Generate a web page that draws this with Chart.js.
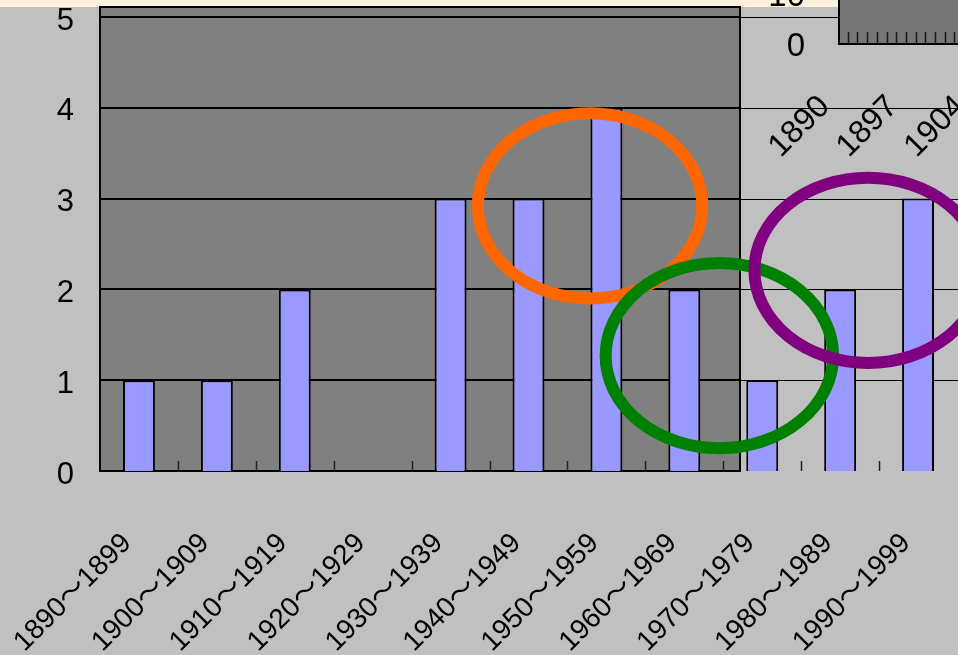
<!DOCTYPE html>
<html>
<head>
<meta charset="utf-8">
<script src="https://cdn.jsdelivr.net/npm/chart.js@4.4.1/dist/chart.umd.min.js"></script>
<style>
html, body { margin: 0; padding: 0; background: #c0c0c0; overflow: hidden; }
#wrap { position: relative; width: 958px; height: 655px; overflow: hidden; }
#mainChart { position: absolute; left: 0; top: 0; }
#insetChart { position: absolute; left: 700px; top: -100px; }
</style>
</head>
<body>
<div id="wrap">
  <canvas id="mainChart" width="958" height="700"></canvas>
  <canvas id="insetChart" width="400" height="260"></canvas>
</div>
<script>
// main chart data
var decades = ['1890～1899', '1900～1909', '1910～1919', '1920～1929', '1930～1939',
               '1940～1949', '1950～1959', '1960～1969', '1970～1979', '1980～1989', '1990～1999'];
var counts = [1, 1, 2, 0, 3, 3, 4, 2, 1, 2, 3];
var yMax = 5;
var yStep = 1;

// the other chart peeking in at the top right
var insetYears = ['1890', '1891', '1892', '1893', '1894', '1895', '1896', '1897', '1898',
                  '1899', '1900', '1901', '1902', '1903', '1904', '1905', '1906', '1907',
                  '1908', '1909', '1910', '1911', '1912', '1913', '1914', '1915', '1916'];
var insetYMax = 20;
var insetYStep = 10;

// hand drawn rings (centre in category / value units)
var rings = [
    { color: '#ff6600', x: 5.79, y: 2.92, rx: 1.44, ry: 1.02 },
    { color: '#008000', x: 7.45, y: 1.27, rx: 1.46, ry: 1.02 },
    { color: '#800080', x: 9.36, y: 2.21, rx: 1.46, ry: 1.02 }
];

var FONT = '"Liberation Sans", Arial, "Noto Sans CJK JP", sans-serif';
var FRAME_RIGHT = 740;

var mainBackground = {
    id: 'mainBackground',
    beforeDraw: function(chart) {
        var ctx = chart.ctx, a = chart.chartArea;
        ctx.save();
        ctx.fillStyle = '#c0c0c0';
        ctx.fillRect(0, 0, chart.width, chart.height);
        ctx.fillStyle = '#fdf1dc';
        ctx.fillRect(0, 0, chart.width, 7);
        ctx.fillStyle = '#808080';
        ctx.fillRect(a.left, 7, FRAME_RIGHT - a.left, a.bottom - 7);
        ctx.restore();
    },
    beforeDatasetsDraw: function(chart) {
        var ctx = chart.ctx, a = chart.chartArea;
        var x = chart.scales.x, y = chart.scales.y;
        ctx.save();
        ctx.strokeStyle = '#000';
        y.ticks.forEach(function(t) {
            if (t.value === 0) return;
            var py = Math.round(y.getPixelForValue(t.value));
            ctx.lineWidth = 2;
            ctx.beginPath();
            ctx.moveTo(a.left, py);
            ctx.lineTo(FRAME_RIGHT, py);
            ctx.stroke();
            ctx.lineWidth = 1;
            ctx.beginPath();
            ctx.moveTo(FRAME_RIGHT, py + 0.5);
            ctx.lineTo(a.right + 1, py + 0.5);
            ctx.stroke();
        });
        // frame of the grey plot area
        ctx.lineWidth = 2;
        ctx.strokeRect(a.left, 7, FRAME_RIGHT - a.left, a.bottom - 7);
        // inward tick marks between categories
        ctx.lineWidth = 1.5;
        ctx.strokeStyle = '#222';
        for (var i = 1; i < decades.length; i++) {
            var px = Math.round((x.getPixelForValue(i - 1) + x.getPixelForValue(i)) / 2) + 0.5;
            ctx.beginPath();
            ctx.moveTo(px, a.bottom);
            ctx.lineTo(px, a.bottom - 10);
            ctx.stroke();
        }
        ctx.restore();
    },
    afterDraw: function(chart) {
        var ctx = chart.ctx;
        var x = chart.scales.x, y = chart.scales.y;
        var cw = x.getPixelForValue(1) - x.getPixelForValue(0);
        var uh = y.getPixelForValue(0) - y.getPixelForValue(1);
        ctx.save();
        ctx.lineWidth = 12;
        rings.forEach(function(r) {
            var cx = x.getPixelForValue(0) + r.x * cw;
            var cy = y.getPixelForValue(r.y);
            ctx.strokeStyle = r.color;
            ctx.beginPath();
            ctx.ellipse(cx, cy, r.rx * cw, r.ry * uh, 0, 0, Math.PI * 2);
            ctx.stroke();
        });
        ctx.restore();
    }
};

new Chart(document.getElementById('mainChart').getContext('2d'), {
    type: 'bar',
    data: {
        labels: decades,
        datasets: [{
            data: counts,
            backgroundColor: '#9999ff',
            borderColor: '#000',
            borderWidth: 2,
            barPercentage: 0.41,
            categoryPercentage: 1
        }]
    },
    options: {
        responsive: false,
        animation: false,
        devicePixelRatio: 1,
        layout: { padding: { top: 17, right: 1, left: 0, bottom: 0 } },
        plugins: { legend: { display: false }, tooltip: { enabled: false } },
        scales: {
            x: {
                grid: { display: false },
                border: { display: false },
                ticks: {
                    autoSkip: false,
                    minRotation: 45,
                    maxRotation: 45,
                    padding: 48,
                    labelOffset: -12,
                    color: '#000',
                    font: { family: FONT, size: 28 }
                },
                afterFit: function(s) {
                    s.height = 229;
                    s.paddingLeft = 0; s.paddingRight = 0;
                }
            },
            y: {
                min: 0,
                max: yMax,
                grid: { display: false },
                border: { display: false },
                ticks: {
                    stepSize: yStep,
                    padding: 18,
                    labelOffset: 4,
                    color: '#000',
                    font: { family: FONT, size: 31 }
                },
                afterFit: function(s) {
                    s.width = 100;
                    s.paddingTop = 0; s.paddingBottom = 0;
                }
            }
        }
    },
    plugins: [mainBackground]
});

var insetBackground = {
    id: 'insetBackground',
    beforeDraw: function(chart) {
        var ctx = chart.ctx, a = chart.chartArea, x = chart.scales.x;
        ctx.save();
        ctx.fillStyle = '#767676';
        ctx.fillRect(a.left, a.top, a.right - a.left, a.bottom - a.top);
        ctx.strokeStyle = '#000';
        ctx.lineWidth = 2;
        ctx.beginPath();
        ctx.moveTo(a.left + 1, a.top);
        ctx.lineTo(a.left + 1, a.bottom);
        ctx.lineTo(a.right, a.bottom);
        ctx.stroke();
        ctx.lineWidth = 1.5;
        ctx.strokeStyle = '#1a1a1a';
        for (var i = 1; i < insetYears.length; i++) {
            var px = Math.round((x.getPixelForValue(i - 1) + x.getPixelForValue(i)) / 2) + 0.5;
            ctx.beginPath();
            ctx.moveTo(px, a.bottom);
            ctx.lineTo(px, a.bottom - 12);
            ctx.stroke();
        }
        ctx.restore();
    }
};

new Chart(document.getElementById('insetChart').getContext('2d'), {
    type: 'bar',
    data: { labels: insetYears, datasets: [] },
    options: {
        responsive: false,
        animation: false,
        devicePixelRatio: 1,
        layout: { padding: { top: 44, right: 0, left: 0, bottom: 0 } },
        plugins: { legend: { display: false }, tooltip: { enabled: false } },
        scales: {
            x: {
                grid: { display: false },
                border: { display: false },
                ticks: {
                    autoSkip: false,
                    minRotation: 45,
                    maxRotation: 45,
                    padding: 36,
                    labelOffset: -18,
                    color: '#000',
                    font: { family: FONT, size: 32 },
                    callback: function(v, i) { return i % 7 === 0 ? insetYears[i] : ''; }
                },
                afterFit: function(s) {
                    s.height = 116;
                    s.paddingLeft = 0; s.paddingRight = 0;
                }
            },
            y: {
                min: 0,
                max: insetYMax,
                grid: { display: false },
                border: { display: false },
                ticks: {
                    stepSize: insetYStep,
                    padding: 25,
                    labelOffset: 3,
                    color: '#000',
                    font: { family: FONT, size: 33 }
                },
                afterFit: function(s) {
                    s.width = 138;
                    s.paddingTop = 0; s.paddingBottom = 0;
                }
            }
        }
    },
    plugins: [insetBackground]
});
</script>
</body>
</html>
